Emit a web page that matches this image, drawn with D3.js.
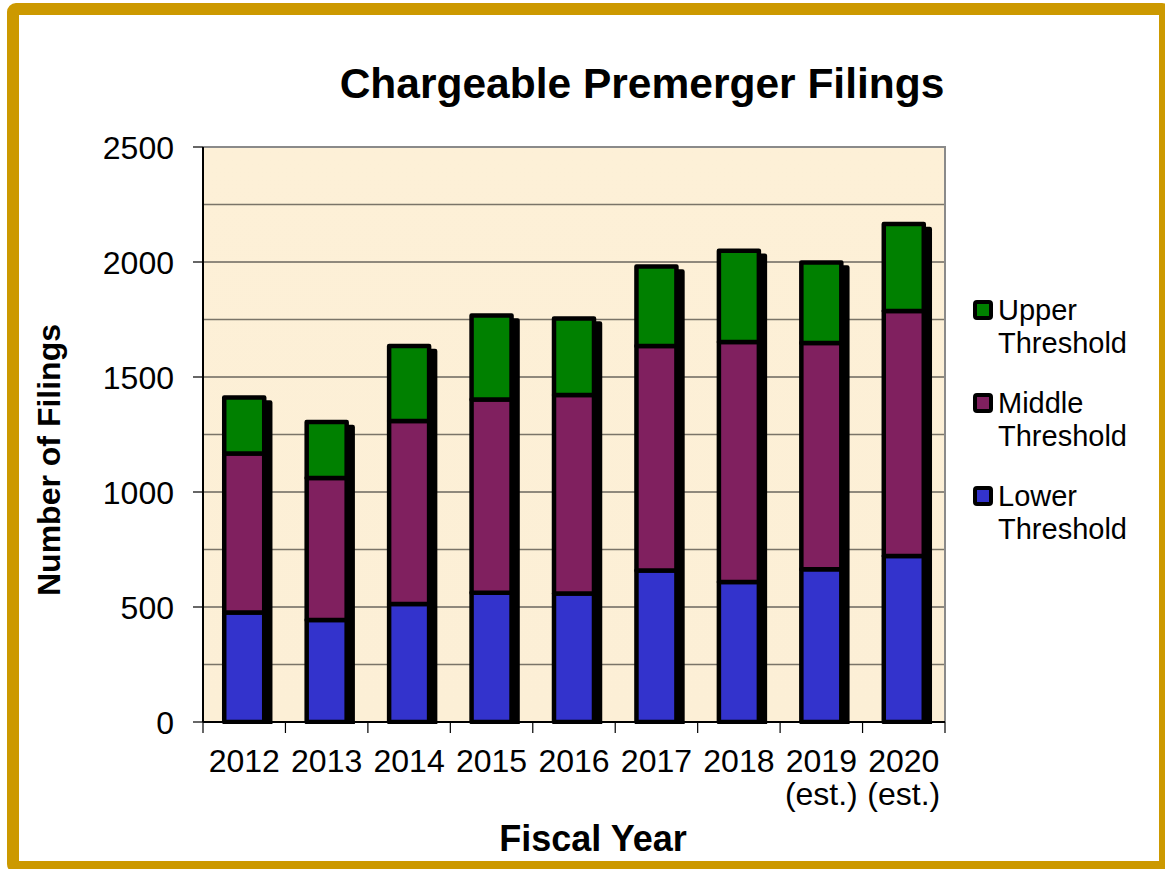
<!DOCTYPE html>
<html lang="en">
<head>
    <meta charset="UTF-8">
    <title>Chargeable Premerger Filings</title>
    <style>
        html,body{
            margin: 0;
            padding: 0;
            background: #fff;
        }
        svg text{
            font-family: "Liberation Sans", Arial, sans-serif;
            fill: #000;
        }
    </style>
</head>
<body>
<div id="container"></div>

<script src="https://d3js.org/d3.v7.min.js"></script>
<script>
    // values
    const years = ["2012", "2013", "2014", "2015", "2016", "2017", "2018", "2019 (est.)", "2020 (est.)"]
    const lower = [476, 443, 513, 562, 559, 659, 609, 664, 722]
    const middle = [691, 618, 796, 840, 863, 976, 1043, 984, 1065]
    const upper = [244, 243, 326, 365, 332, 345, 397, 350, 378]
    const yTicks = [0, 500, 1000, 1500, 2000, 2500]
    const seriesNames = ["Lower Threshold", "Middle Threshold", "Upper Threshold"]
    const seriesColors = ["#3333cc", "#80205f", "#008000"]

    const [width, height] = [1165, 869]
    const plot = {left: 203, right: 945, top: 147, bottom: 722}

    const svg = d3.select('#container').append('svg')
        .attr('width', width)
        .attr('height', height)

    // gold frame
    svg.append('rect')
        .attr('x', 13).attr('y', 9)
        .attr('width', 1152).attr('height', 858)
        .attr('rx', 3)
        .attr('fill', '#fff')
        .attr('stroke', '#cc9900')
        .attr('stroke-width', 12)

    const x = d3.scaleBand()
        .domain(years)
        .range([plot.left, plot.right])
        .paddingInner(0.515)
        .paddingOuter(0.2575)

    const y = d3.scaleLinear()
        .domain([0, 2500])
        .range([plot.bottom, plot.top])

    // plot background
    const defs = svg.append('defs')
    const grad = defs.append('linearGradient').attr('id', 'bg')
        .attr('x1', 0).attr('y1', 0).attr('x2', 0).attr('y2', 1)
    grad.append('stop').attr('offset', 0).attr('stop-color', '#fdf0d7')
    grad.append('stop').attr('offset', 1).attr('stop-color', '#fcefd6')

    defs.append('clipPath').attr('id', 'plotClip')
        .append('rect')
        .attr('x', plot.left).attr('y', plot.top - 10)
        .attr('width', plot.right - plot.left)
        .attr('height', plot.bottom - plot.top + 12)

    svg.append('rect')
        .attr('x', plot.left).attr('y', plot.top)
        .attr('width', plot.right - plot.left)
        .attr('height', plot.bottom - plot.top)
        .attr('fill', 'url(#bg)')

    // gridlines: 500s dark, 250s grey
    const grid = d3.range(250, 2500, 250)
    svg.append('g').selectAll('line')
        .data(grid)
        .join('line')
        .attr('x1', plot.left).attr('x2', plot.right)
        .attr('y1', d => y(d)).attr('y2', d => y(d))
        .attr('stroke', d => d % 500 === 0 ? '#222' : '#7a7468')
        .attr('stroke-width', d => d % 500 === 0 ? 1 : 1.6)

    // plot border top / right
    svg.append('path')
        .attr('d', `M${plot.left},${plot.top}H${plot.right}V${plot.bottom}`)
        .attr('fill', 'none')
        .attr('stroke', '#8a8a8a')
        .attr('stroke-width', 2)

    // stacked data
    const table = years.map((yr, i) => ({year: yr, lower: lower[i], middle: middle[i], upper: upper[i]}))
    const stack = d3.stack().keys(["lower", "middle", "upper"])
    const stacked = stack(table)

    const bars = svg.append('g').attr('clip-path', 'url(#plotClip)')

    // shadow behind each whole bar
    bars.append('g').selectAll('rect')
        .data(table)
        .join('rect')
        .attr('x', d => x(d.year) + 6)
        .attr('y', d => y(d.lower + d.middle + d.upper) + 5)
        .attr('width', x.bandwidth())
        .attr('height', d => plot.bottom - y(d.lower + d.middle + d.upper))
        .attr('fill', '#000')
        .attr('stroke', '#000')
        .attr('stroke-width', 4.5)
        .attr('stroke-linejoin', 'round')

    bars.append('g').selectAll('g')
        .data(stacked)
        .join('g')
        .attr('fill', (d, i) => seriesColors[i])
        .selectAll('rect')
        .data(d => d)
        .join('rect')
        .attr('x', d => x(d.data.year))
        .attr('y', d => y(d[1]))
        .attr('width', x.bandwidth())
        .attr('height', d => y(d[0]) - y(d[1]))
        .attr('stroke', '#000')
        .attr('stroke-width', 4.5)
        .attr('stroke-linejoin', 'round')

    // y axis
    const yAxis = svg.append('g')
    yAxis.append('line')
        .attr('x1', plot.left).attr('x2', plot.left)
        .attr('y1', plot.top).attr('y2', plot.bottom)
        .attr('stroke', '#000').attr('stroke-width', 2)
    yAxis.selectAll('.tick')
        .data(yTicks)
        .join('line')
        .attr('x1', plot.left - 10).attr('x2', plot.left)
        .attr('y1', d => y(d)).attr('y2', d => y(d))
        .attr('stroke', '#000').attr('stroke-width', 1.2)
    yAxis.selectAll('text')
        .data(yTicks)
        .join('text')
        .attr('x', 174)
        .attr('y', d => y(d) + 12)
        .attr('text-anchor', 'end')
        .style('font-size', '32px')
        .text(d => d)

    // x axis
    const xAxis = svg.append('g')
    xAxis.append('line')
        .attr('x1', plot.left).attr('x2', plot.right)
        .attr('y1', plot.bottom).attr('y2', plot.bottom)
        .attr('stroke', '#000').attr('stroke-width', 2)
    const step = x.step()
    const bounds = years.map(d => x(d) + x.bandwidth() / 2 - step / 2).concat([plot.right])
    xAxis.selectAll('.tick')
        .data(bounds)
        .join('line')
        .attr('x1', d => d).attr('x2', d => d)
        .attr('y1', plot.bottom).attr('y2', plot.bottom + 11)
        .attr('stroke', '#000').attr('stroke-width', 1.2)
    const xl = xAxis.selectAll('text')
        .data(years)
        .join('text')
        .attr('text-anchor', 'middle')
        .style('font-size', '32px')
    xl.each(function (d) {
        const parts = d.split(' ')
        const t = d3.select(this)
        parts.forEach((p, k) => {
            t.append('tspan')
                .attr('x', x(d) + x.bandwidth() / 2)
                .attr('y', 772 + k * 33)
                .text(p)
        })
    })

    // titles
    svg.append('text')
        .attr('x', 642).attr('y', 98)
        .attr('text-anchor', 'middle')
        .style('font-size', '42.5px')
        .style('font-weight', 'bold')
        .text('Chargeable Premerger Filings')

    svg.append('text')
        .attr('x', 593).attr('y', 851)
        .attr('text-anchor', 'middle')
        .style('font-size', '36px')
        .style('font-weight', 'bold')
        .text('Fiscal Year')

    svg.append('text')
        .attr('transform', 'translate(60,460) rotate(-90)')
        .attr('text-anchor', 'middle')
        .style('font-size', '32px')
        .style('font-weight', 'bold')
        .text('Number of Filings')

    // legend, upper first
    const legendItems = seriesNames.map((n, i) => ({name: n, color: seriesColors[i]})).reverse()
    const legend = svg.append('g').selectAll('g')
        .data(legendItems)
        .join('g')
        .attr('transform', (d, i) => `translate(973,${300 + i * 93})`)
    legend.append('rect')
        .attr('x', 2).attr('y', 2)
        .attr('width', 16).attr('height', 16)
        .attr('rx', 2)
        .attr('fill', d => d.color)
        .attr('stroke', '#000')
        .attr('stroke-width', 4)
    legend.each(function (d) {
        const parts = d.name.split(' ')
        const t = d3.select(this).append('text').style('font-size', '29px')
        parts.forEach((p, k) => {
            t.append('tspan')
                .attr('x', 25)
                .attr('y', 20 + k * 33)
                .text(p)
        })
    })
</script>
</body>
</html>
